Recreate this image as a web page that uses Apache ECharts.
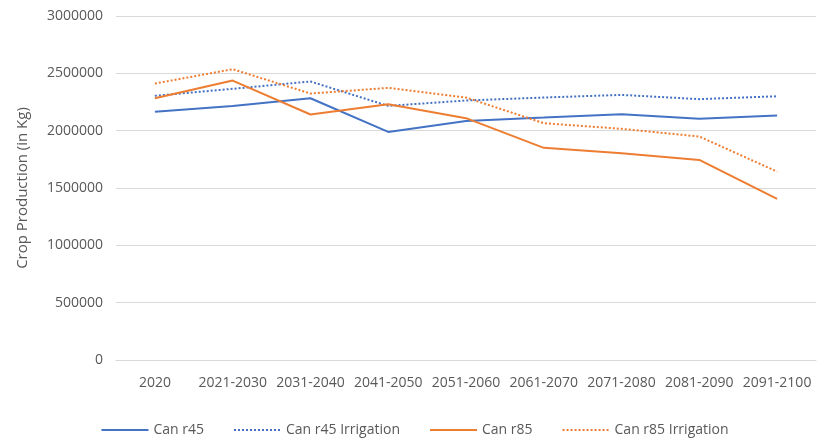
<!DOCTYPE html>
<html lang="en">
<head>
    <meta charset="UTF-8">
    <title>Crop Production</title>
    <script src="https://cdn.jsdelivr.net/npm/echarts@6/dist/echarts.min.js"></script>
    <style>
        html, body { margin: 0; padding: 0; background: #fff; }
        #main { width: 829px; height: 440px; }
    </style>
</head>
<body>
<div id="main"></div>
<script type="text/javascript">
    // categories and values
    var periods = ['2020', '2021-2030', '2031-2040', '2041-2050', '2051-2060',
        '2061-2070', '2071-2080', '2081-2090', '2091-2100'];
    var canR45 = [2166000, 2216000, 2283000, 1989000, 2085000, 2114000, 2144000, 2103000, 2132000];
    var canR45Irr = [2304000, 2365000, 2429000, 2216000, 2263000, 2289000, 2312000, 2275000, 2300000];
    var canR85 = [2283000, 2437000, 2141000, 2231000, 2109000, 1850000, 1803000, 1745000, 1405000];
    var canR85Irr = [2411000, 2536000, 2324000, 2373000, 2289000, 2065000, 2016000, 1949000, 1643000];
    var seriesNames = ['Can r45', 'Can r45 Irrigation', 'Can r85', 'Can r85 Irrigation'];

    var blue = '#4472C4';
    var orange = '#ED7D31';
    var font = 'Open Sans';

    function makeSeries(name, data, color, dotted) {
        return {
            name: name,
            type: 'line',
            data: data,
            symbol: 'none',
            smooth: false,
            lineStyle: {
                color: color,
                width: 2,
                type: dotted ? [2, 2] : 'solid'
            },
            itemStyle: { color: color }
        };
    }

    var myChart = echarts.init(document.getElementById('main'));
    var option = {
        animation: false,
        textStyle: { fontFamily: font },
        grid: { left: 116, right: 13, top: 16, bottom: 80 },
        legend: {
            data: seriesNames,
            top: 418,
            left: 'center',
            itemWidth: 47,
            itemHeight: 10,
            itemGap: 29,
            itemStyle: { opacity: 0 },
            textStyle: { color: '#595959', fontSize: 14, fontFamily: font }
        },
        xAxis: {
            type: 'category',
            data: periods,
            boundaryGap: true,
            axisLine: { show: true, lineStyle: { color: '#D9D9D9', width: 1 } },
            axisTick: { show: false },
            axisLabel: { color: '#595959', fontSize: 14, margin: 16, interval: 0 }
        },
        yAxis: {
            type: 'value',
            min: 0,
            max: 3000000,
            interval: 500000,
            name: 'Crop Production (in Kg)',
            nameLocation: 'middle',
            nameGap: 86,
            nameTextStyle: { color: '#595959', fontSize: 15 },
            axisLine: { show: false },
            axisTick: { show: false },
            axisLabel: {
                color: '#595959', fontSize: 14, margin: 13,
                formatter: function (v) { return String(v); }
            },
            splitLine: { lineStyle: { color: '#D9D9D9', width: 1 } }
        },
        series: [
            makeSeries(seriesNames[0], canR45, blue, false),
            makeSeries(seriesNames[1], canR45Irr, blue, true),
            makeSeries(seriesNames[2], canR85, orange, false),
            makeSeries(seriesNames[3], canR85Irr, orange, true)
        ]
    };
    myChart.setOption(option);
</script>
</body>
</html>
